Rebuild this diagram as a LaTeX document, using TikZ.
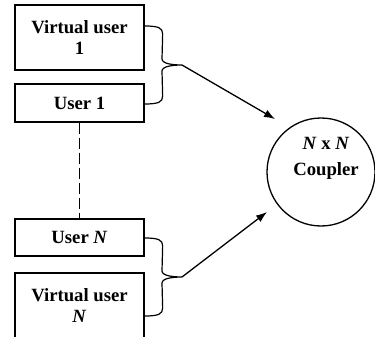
\documentclass[tikz,border=0pt]{standalone}
\usepackage{fontspec}
\setmainfont{Liberation Serif}
\usetikzlibrary{arrows.meta,calc}

\tikzset{
  ln/.style={line width=1.3pt, draw=black},
  userbox/.style={ln, rectangle, minimum width=129pt, inner sep=0pt, align=center,
    font=\fontsize{18.7}{20.5}\selectfont\bfseries},
  couplercirc/.style={ln, circle, minimum size=108pt, inner sep=0pt},
  lbl/.style={align=center, inner sep=0pt, font=\fontsize{18.7}{26}\selectfont\bfseries},
  brc/.style={ln, line width=1.2pt},
  feed/.style={ln, -{Latex[length=11pt,width=8pt]}},
  link/.style={ln, dash pattern=on 11pt off 4pt}
}

% curly bracket joining two boxes: top end, tip, bottom end
\newcommand\bracepair[3]{%
  \draw[brc] (#1) .. controls +(14,0) and +(0,-6) .. ($(#1)+(18,8)$)
    -- ($(#2)+(-20,-6)$) .. controls +(0,5) and +(-8,0) .. (#2)
    .. controls +(-8,0) and +(0,-5) .. ($(#2)+(-20,6)$)
    -- ($(#3)+(18,-8)$) .. controls +(0,6) and +(14,0) .. (#3);}

\begin{document}
\begin{tikzpicture}[x=1pt, y=-1pt]
  \useasboundingbox (0,0) rectangle (375,337);
  \begin{scope}
    \clip (0,0) rectangle (375,337);

    % user boxes
    \node[userbox, minimum height=65pt] (v1) at (79.5,37.5) {Virtual user\\1};
    \node[userbox, minimum height=38pt] (u1) at (79.5,103) {User 1};
    \node[userbox, minimum height=37pt] (uN) at (79.5,237.5) {User \textit{N}};
    \node[userbox, minimum height=65pt] (vN) at (79.5,305.5) {Virtual user\\\textit{N}};

    % coupler
    \node[couplercirc] (coupler) at (321,172) {};
    \node[lbl] (couplertxt) at ([xshift=5pt,yshift=14pt]coupler.center)
      {\textit{N} x \textit{N}\\Coupler};

    % dashed link between the first and the last user
    \draw[link] (u1.south) -- (uN.north);

    % bracket ends
    \coordinate (b1a) at ([yshift=11.5pt]v1.east);
    \coordinate (b1b) at ([yshift=-1pt]u1.east);
    \coordinate (t1) at (182,65);
    \coordinate (b2a) at ([yshift=-0.5pt]uN.east);
    \coordinate (b2b) at ([yshift=-10.5pt]vN.east);
    \coordinate (t2) at (182,277);

    \bracepair{b1a}{t1}{b1b}
    \bracepair{b2a}{t2}{b2b}

    % arrows into the coupler
    \coordinate (in1) at (275,119);
    \coordinate (in2) at (267,212);
    \draw[feed] (t1) -- (in1);
    \draw[feed] (t2) -- (in2);
  \end{scope}
\end{tikzpicture}
\end{document}
